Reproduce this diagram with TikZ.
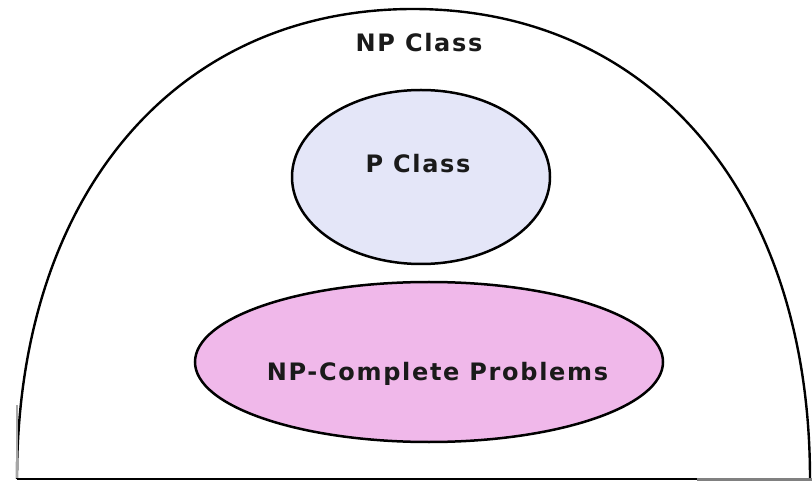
\documentclass[tikz,border=0pt]{standalone}
\usepackage{fontspec}
\setmainfont{DejaVu Sans}
\usetikzlibrary{shapes.geometric}
\definecolor{plav}{HTML}{E4E6F8}
\definecolor{nppink}{HTML}{F0B8EA}
\definecolor{txtgrey}{HTML}{1A1A1A}
\tikzset{
    classtext/.style={text=txtgrey, anchor=base, font=\fontsize{24}{28}\selectfont\bfseries\addfontfeatures{LetterSpace=7}},
    setblob/.style={ellipse, draw=black, line width=2.5pt, inner sep=0pt}
}
\begin{document}
\begin{tikzpicture}[x=1pt, y=-1pt]
    \useasboundingbox (0,0) rectangle (812,481);
    % NP class dome
    \draw[line width=2.4pt] (17,479) .. controls (17,196) and (175,9) .. (413,9)
        .. controls (652,9) and (810,196) .. (810,479);
    \draw[gray!70, line width=2.5pt] (17,405) -- (17,478);
    \draw[line width=2.4pt] (17,479) -- (697,479);
    \draw[gray, line width=3pt] (697,479.5) -- (812,479.5);
    \node[classtext] (npclass) at (419,52) {NP Class};

    % P class
    \node[setblob, fill=plav, minimum width=258pt, minimum height=174pt] (pclass) at (421,177) {};
    \node[classtext] (ptext) at ([shift={(-3pt,4pt)}]pclass.center) {P Class};

    % NP-complete problems
    \node[setblob, fill=nppink, minimum width=468pt, minimum height=160pt] (npc) at (429,362) {};
    \node[classtext] (npctext) at ([shift={(8.5pt,-19pt)}]npc.center) {NP-Complete Problems};
\end{tikzpicture}
\end{document}
